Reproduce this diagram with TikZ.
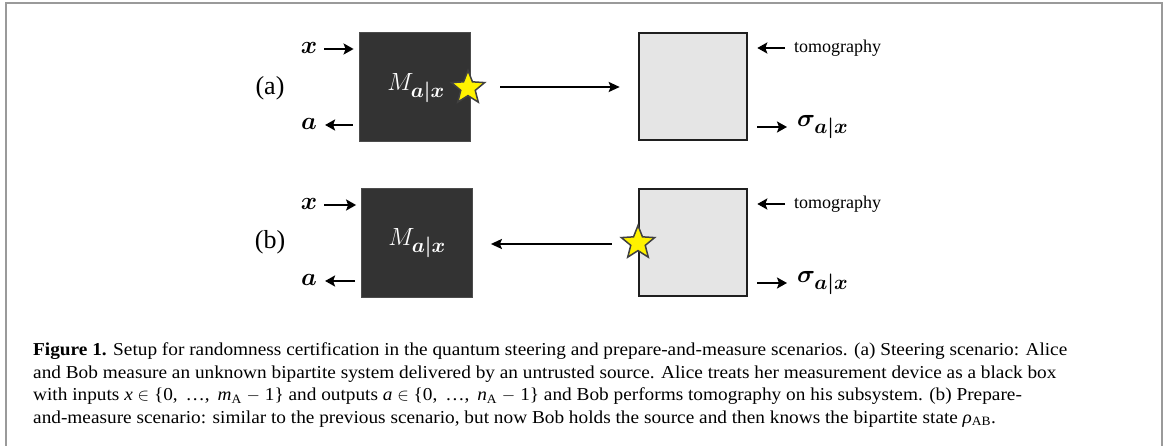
\documentclass[tikz,border=0pt]{standalone}
\usepackage{amsmath,bm}
\usepackage{fontspec}
\setmainfont{Liberation Serif}[FakeStretch=1.06]
\newfontfamily\plainserif{Liberation Serif}
\usetikzlibrary{arrows.meta,shapes.geometric}
\definecolor{darkfill}{HTML}{333333}
\definecolor{lightfill}{HTML}{E5E5E5}
\definecolor{framegray}{HTML}{9A9A9A}
\definecolor{staryellow}{HTML}{FFF200}
\begin{document}
\begin{tikzpicture}[x=1pt,y=-1pt,
  darkbox/.style={draw=gray!60!black,line width=0.8pt,fill=darkfill,minimum width=111pt,minimum height=109pt,inner sep=0pt},
  lightbox/.style={draw=black!88,line width=2.6pt,fill=lightfill,minimum width=108pt,minimum height=107pt,inner sep=0pt},
  starmark/.style={star,star points=5,star point ratio=2.3,draw=black!75,line width=1.5pt,fill=staryellow,minimum size=35pt,inner sep=0pt},
  shortarr/.style={line width=2.8pt,-{Stealth[length=10pt,width=11pt,inset=2pt]}},
  longarr/.style={line width=2pt,-{Stealth[length=11pt,width=10pt,inset=2pt]}},
  mathlbl/.style={inner sep=0pt,font=\fontsize{25}{28}\selectfont},
  bigmath/.style={inner sep=0pt,font=\fontsize{29}{32}\selectfont},
  panellbl/.style={inner sep=0pt,font=\plainserif\fontsize{26}{28}\selectfont},
  textlbl/.style={inner sep=0pt,font=\plainserif\fontsize{18}{22}\selectfont,anchor=west},
  capline/.style={inner sep=0pt,anchor=base west,font=\fontsize{18.2}{22}\selectfont}
]
\useasboundingbox (0,0) rectangle (1168,446);
\draw[framegray,line width=2pt] (6,450) -- (6,3) -- (1162,3) -- (1162,450);

% ---- panel (a)
\node[panellbl] (pa) at (270,88) {(a)};
\node[darkbox] (A1) at (414.5,86.5) {};
\node[bigmath,text=white] (M1) at (416,88) {$M_{\bm{a|x}}$};
\node[starmark] (S1) at (468,88) {};
\node[lightbox] (B1) at (693,86.5) {};
\node[mathlbl] (x1) at (309,48) {$\bm{x}$};
\node[mathlbl] (a1) at (309,124) {$\bm{a}$};
\node[textlbl] (t1) at (794,48) {tomography};
\node[bigmath,anchor=west] (sg1) at (797,127) {$\bm{\sigma_{a|x}}$};
\draw[shortarr] (x1.east) ++(7,1) coordinate (x1s) -- (x1s -| A1.west) [shorten >=5pt];
\draw[shortarr] (A1.west |- a1) ++(-6,1) coordinate (a1s) -- ([xshift=8pt]a1.east |- a1s);
\draw[longarr] (S1.east) ++(21,-1) coordinate (s1s) -- (s1s -| B1.west) [shorten >=18pt];
\draw[shortarr] (t1.west) ++(-9,0) coordinate (t1s) -- (t1s -| B1.east) [shorten >=9pt];
\draw[shortarr] (B1.east |- sg1) ++(9,0) coordinate (sg1s) -- ([xshift=-10pt]sg1.west |- sg1s);

% ---- panel (b)
\node[panellbl] (pb) at (270,242) {(b)};
\node[darkbox] (A2) at (417,242.5) {};
\node[bigmath,text=white] (M2) at (417,243) {$M_{\bm{a|x}}$};
\node[lightbox] (B2) at (693,242.5) {};
\node[starmark] (S2) at (638,243) {};
\node[mathlbl] (x2) at (309,204) {$\bm{x}$};
\node[mathlbl] (a2) at (309,280) {$\bm{a}$};
\node[textlbl] (t2) at (794,204) {tomography};
\node[bigmath,anchor=west] (sg2) at (797,283) {$\bm{\sigma_{a|x}}$};
\draw[shortarr] (x2.east) ++(7,1) coordinate (x2s) -- (x2s -| A2.west) [shorten >=5pt];
\draw[shortarr] (A2.west |- a2) ++(-6,1) coordinate (a2s) -- ([xshift=8pt]a2.east |- a2s);
\draw[longarr] (S2.west) ++(-15,1) coordinate (s2s) -- (s2s -| A2.east) [shorten >=18pt];
\draw[shortarr] (t2.west) ++(-9,0) coordinate (t2s) -- (t2s -| B2.east) [shorten >=9pt];
\draw[shortarr] (B2.east |- sg2) ++(9,0) coordinate (sg2s) -- ([xshift=-10pt]sg2.west |- sg2s);

% ---- caption
\node[capline] (c1) at (33,356) {\textbf{Figure 1.} Setup for randomness certification in the quantum steering and prepare-and-measure scenarios. (a) Steering scenario: Alice};
\node[capline] (c2) at (33,378) {and Bob measure an unknown bipartite system delivered by an untrusted source. Alice treats her measurement device as a black box};
\node[capline] (c3) at (33,400.5) {with inputs \textit{x} $\in$ \{0,\, …,\, \textit{m}\textsubscript{A} $-$ 1\} and outputs \textit{a} $\in$ \{0,\, …,\, \textit{n}\textsubscript{A} $-$ 1\} and Bob performs tomography on his subsystem. (b) Prepare-};
\node[capline] (c4) at (33,423) {and-measure scenario: similar to the previous scenario, but now Bob holds the source and then knows the bipartite state \textit{ρ}\textsubscript{AB}.};
\end{tikzpicture}
\end{document}
